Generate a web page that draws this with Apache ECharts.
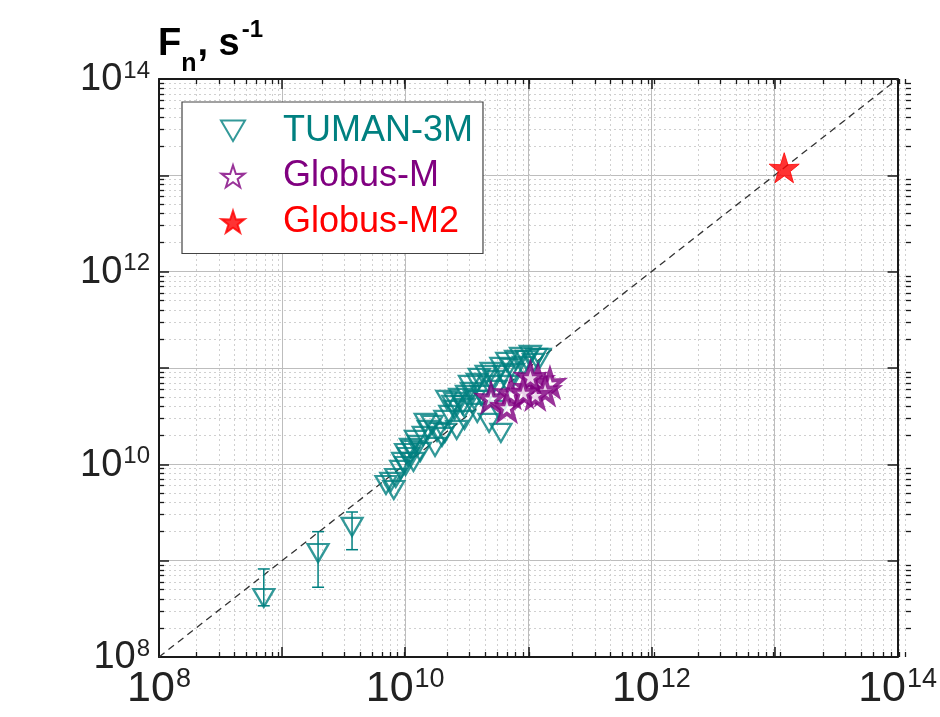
<!DOCTYPE html>
<html><head><meta charset="utf-8">
<script src="https://cdn.jsdelivr.net/npm/echarts@6/dist/echarts.min.js"></script>
<style>html,body{margin:0;padding:0;background:#fff}#c{width:940px;height:717px}</style>
</head><body><div id="c"></div>
<script>
// ---- data ----
const tumanX = [7.1e8, 1.96e9, 3.7e9,
 6.98e9,7.65e9,8.08e9,8.38e9,9.19e9,9.53e9,1.007e10,1.007e10,1.065e10,1.104e10,1.146e10,1.167e10,1.211e10,1.279e10,1.327e10,1.402e10,1.455e10,1.537e10,1.655e10,1.748e10,1.814e10,1.989e10,2.101e10,2.101e10,2.180e10,2.303e10,2.434e10,2.525e10,2.525e10,2.619e10,2.768e10,2.925e10,3.034e10,3.034e10,3.148e10,3.326e10,3.451e10,3.646e10,3.853e10,3.853e10,3.997e10,4.147e10,4.382e10,4.546e10,4.804e10,4.804e10,4.984e10,5.266e10,5.464e10,5.773e10,5.989e10,5.989e10,6.328e10,6.687e10,6.937e10,7.330e10,7.605e10,7.889e10,8.648e10,9.140e10,9.656e10,1.039e11,1.098e11,1.160e11,1.249e11];
const tumanY = [4.1e8, 1.2e9, 2.24e9,
 6.11e9,6.57e9,5.42e9,7.22e9,8.75e9,1.059e10,9.62e9,1.313e10,1.193e10,1.480e10,1.411e10,1.059e10,1.792e10,1.590e10,1.345e10,1.972e10,2.691e10,2.276e10,2.566e10,1.516e10,2.170e10,1.925e10,2.119e10,2.891e10,4.664e10,3.258e10,4.139e10,3.671e10,4.446e10,2.276e10,4.893e10,4.139e10,2.891e10,3.851e10,5.256e10,6.677e10,5.646e10,4.664e10,7.003e10,3.417e10,7.892e10,5.256e10,4.664e10,8.478e10,2.691e10,6.677e10,9.110e10,7.522e10,5.924e10,3.671e10,1.027e11,2.119e10,8.478e10,1.157e11,6.677e10,1.002e11,8.896e10,1.214e11,1.304e11,1.051e11,1.214e11,1.368e11,1.130e11,1.273e11,1.273e11];
const errX    = [7.1e8, 1.96e9, 3.7e9];
const errLow  = [3.4e8, 5.3e8, 1.3e9];
const errHigh = [8.2e8, 2.0e9, 3.2e9];
const globusMX = [4.98e10, 7.2e10, 6.7e10, 1.04e11, 1.2e11, 1.5e11, 1.37e11, 1.14e11, 1.04e11, 9.1e10];
const globusMY = [4.89e10, 5.5e10, 3.95e10, 6.2e10, 7.5e10, 7.0e10, 5.9e10, 5.3e10, 8.1e10, 5.6e10];
const globusM2X = [1.2e13];
const globusM2Y = [1.2e13];
const diagX = [1e8, 1e14];
const diagY = [1e8, 1e14];
const axisMin = 1e8, axisMax = 1e14;
const labelledExps = [8, 10, 12, 14];
const seriesNames = ['TUMAN-3M', 'Globus-M', 'Globus-M2'];

// ---- build ----
const TEAL = '#008080', PURPLE = '#800080', RED = '#ff0000';
const FONT = '"Liberation Sans",Arial,sans-serif';
const triPath = 'path://M0,0L20,0L10,17Z';
const starPath = 'path://M10,0L12.35,7.24L19.51,6.91L13.8,11.38L15.88,18.09L10,14.0L4.12,18.09L6.2,11.38L0.49,6.91L7.65,7.24Z';
const minorVals = [];
for (let k = 8; k < 14; k++) for (let m = 2; m <= 9; m++) minorVals.push(m * Math.pow(10, k));
const zip = (a, b) => a.map((v, i) => [v, b[i]]);
const labelFmt = v => {
  const e = Math.round(Math.log10(v));
  return labelledExps.indexOf(e) >= 0 ? '{b|10}{s|' + e + '}' : '';
};

function majorAxis(pos, grid, labels, split, fs) {
  return {
    type: 'log', logBase: 10, min: axisMin, max: axisMax, gridIndex: grid, position: pos,
    axisLine: {show: true, onZero: false, lineStyle: {color: '#1a1a1a', width: 2}},
    axisTick: {show: true, inside: true, length: 10, lineStyle: {color: '#1a1a1a', width: 1.5}},
    axisLabel: labels ? {show: true, margin: 9, formatter: labelFmt, showMinLabel: true, showMaxLabel: true,
      rich: {b: {fontFamily: FONT, fontSize: fs, color: '#222', verticalAlign: 'bottom'},
             s: {fontFamily: FONT, fontSize: Math.round(fs * 0.62), color: '#222', verticalAlign: 'bottom', padding: [0, 0, Math.round(fs * 0.42), 1]}}} : {show: false},
    splitLine: {show: split, lineStyle: {color: '#bdbdbd', width: 1}},
    minorTick: {show: false}, minorSplitLine: {show: false}
  };
}
function minorAxis(pos, split) {
  return {
    type: 'log', logBase: 10, min: axisMin, max: axisMax, gridIndex: 1, position: pos,
    axisLine: {show: false, onZero: false},
    axisTick: {show: true, inside: true, length: 5, customValues: minorVals, lineStyle: {color: '#1a1a1a', width: 1.3}},
    axisLabel: {show: false},
    splitLine: {show: split, lineStyle: {color: '#d0d0d0', width: 1, type: [2, 3]}}
  };
}

const chart = echarts.init(document.getElementById('c'), null, {renderer: 'canvas'});
const errStyle = {stroke: TEAL, lineWidth: 1.5};
const TF = '"Liberation Sans",Arial,sans-serif';
chart.setOption({
  animation: false,
  backgroundColor: '#fff',
  grid: [
    {left: 159, top: 79, width: 752, height: 578, z: 2},
    {left: 159, top: 79, width: 752, height: 578, z: 1}
  ],
  xAxis: [majorAxis('bottom', 0, true, true, 43), majorAxis('top', 0, false, false), minorAxis('bottom', true), minorAxis('top', false)],
  yAxis: [majorAxis('left', 0, true, true, 38), majorAxis('right', 0, false, false), minorAxis('left', true), minorAxis('right', false)],
  legend: {
    orient: 'vertical', left: 182, top: 102, padding: [6, 10, 9, 38],
    backgroundColor: '#fff', borderColor: '#444', borderWidth: 1.2,
    itemWidth: 24, itemHeight: 22, itemGap: 0,
    textStyle: {fontFamily: FONT, fontSize: 36, lineHeight: 45.5, padding: [0, 0, 0, 33]},
    data: [
      {name: seriesNames[0], textStyle: {color: TEAL}},
      {name: seriesNames[1], textStyle: {color: PURPLE}},
      {name: seriesNames[2], textStyle: {color: RED}}
    ]
  },
  graphic: [{
    type: 'text', left: 158, top: 18, z: 10,
    style: {
      text: '{f|F}{sub|n}{f|, s}{sup|-1}',
      rich: {
        f: {fontFamily: TF, fontWeight: 'bold', fontSize: 38, color: '#222', verticalAlign: 'bottom', padding: [0, 0, 13, 0]},
        sub: {fontFamily: TF, fontWeight: 'bold', fontSize: 25, color: '#222', verticalAlign: 'bottom', padding: [0, 1, 0, 0]},
        sup: {fontFamily: TF, fontWeight: 'bold', fontSize: 24, color: '#222', verticalAlign: 'bottom', padding: [0, 0, 35, 2]}
      }
    }
  }],
  series: [
    {type: 'line', name: 'diag', xAxisIndex: 0, yAxisIndex: 0, data: zip(diagX, diagY), symbol: 'none', silent: true,
     lineStyle: {color: '#333', width: 1.3, type: [7, 5]}, z: 3},
    {type: 'custom', name: 'err', xAxisIndex: 0, yAxisIndex: 0, z: 4,
     data: errX.map((x, i) => [x, errLow[i], errHigh[i]]),
     encode: {x: 0, y: [1, 2]},
     renderItem: (params, api) => {
       const x = api.value(0);
       const lo = api.coord([x, api.value(1)]);
       const hi = api.coord([x, api.value(2)]);
       const w = 6;
       return {type: 'group', children: [
         {type: 'line', shape: {x1: lo[0], y1: lo[1], x2: hi[0], y2: hi[1]}, style: errStyle},
         {type: 'line', shape: {x1: hi[0] - w, y1: hi[1], x2: hi[0] + w, y2: hi[1]}, style: errStyle},
         {type: 'line', shape: {x1: lo[0] - w, y1: lo[1], x2: lo[0] + w, y2: lo[1]}, style: errStyle}
       ]};
     }},
    {type: 'scatter', name: seriesNames[0], xAxisIndex: 0, yAxisIndex: 0, data: zip(tumanX, tumanY),
     symbol: triPath, symbolSize: [21, 18], z: 5,
     itemStyle: {color: 'rgba(255,255,255,0)', borderColor: TEAL, borderWidth: 2.3}},
    {type: 'scatter', name: seriesNames[1], xAxisIndex: 0, yAxisIndex: 0, data: zip(globusMX, globusMY),
     symbol: starPath, symbolSize: 25, z: 6,
     itemStyle: {color: '#fff', borderColor: PURPLE, borderWidth: 3.8}},
    {type: 'scatter', name: seriesNames[2], xAxisIndex: 0, yAxisIndex: 0, data: zip(globusM2X, globusM2Y),
     symbol: starPath, symbolSize: 30, z: 7,
     itemStyle: {color: RED, borderColor: RED, borderWidth: 1}}
  ]
});
</script></body></html>
